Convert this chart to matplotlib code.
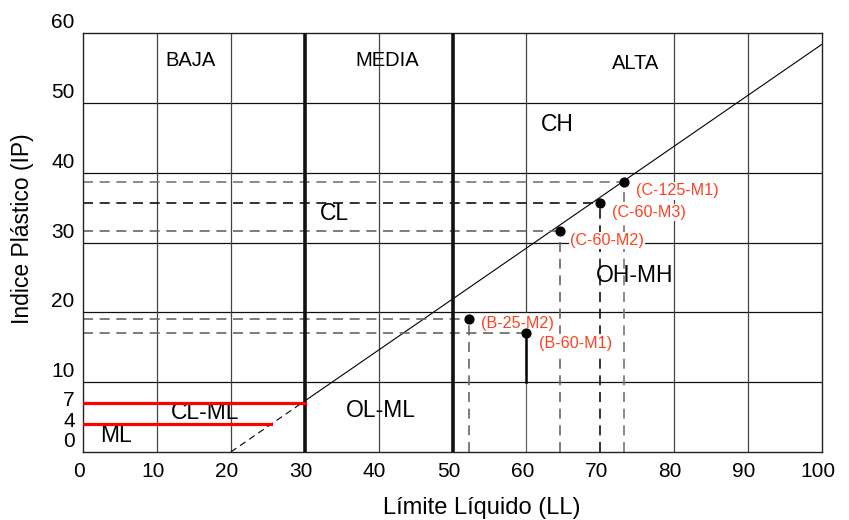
#Carta de plasticidad (LL vs IP)

import matplotlib
matplotlib.use("Agg")
import matplotlib.pyplot as plt
import matplotlib.transforms as mtransforms

plt.rcParams['font.family'] = ['Liberation Sans', 'DejaVu Sans']

# ejes
x_ticks = [0, 10, 20, 30, 40, 50, 60, 70, 80, 90, 100]
y_ticks = [0, 4, 7, 10, 20, 30, 40, 50, 60]
y_tick_shift = [9, 3, 3, 9, 9, 9, 9, 9, 9]  # px hacia arriba

# linea A
a_line_x = [20, 30, 100]
a_line_y = [0, 7.3, 58.4]

# muestras
muestras = ["(B-25-M2)", "(B-60-M1)", "(C-60-M2)", "(C-60-M3)", "(C-125-M1)"]
ll = [52.2, 59.9, 64.5, 69.9, 73.2]
ip = [19.0, 17.0, 31.7, 35.7, 38.7]
lab_x = [58.8, 66.7, 70.9, 76.6, 80.4]
lab_y = [18.4, 15.6, 30.3, 34.3, 37.4]
dash_col = ["#666666", "#666666", "#666666", "#111111", "#777777"]

# zonas
zonas = ["BAJA", "MEDIA", "ALTA"]
zonas_x = [14.6, 41.2, 74.7]
zonas_y = [56, 56, 55.7]
suelos = ["CH", "CL", "OH-MH", "CL-ML", "ML", "OL-ML"]
suelos_x = [64.2, 34.0, 74.7, 16.5, 4.5, 40.3]
suelos_y = [46.9, 34.1, 25.3, 5.7, 2.3, 5.9]

fig = plt.figure(figsize=(8.49, 5.2), dpi=100)
ax = fig.add_axes([0.0978, 0.1308, 0.8705, 0.8057])
ax.set_xlim(0, 100)
ax.set_ylim(0, 60)

# cuadricula
for yy in [10, 20, 30, 40, 50]:
    ax.plot([0, 100], [yy, yy], color="#111111", lw=0.9, zorder=1)
for xx in [10, 20, 40, 80, 90]:
    ax.plot([xx, xx], [0, 60], color="#444444", lw=0.9, zorder=1)
ax.plot([60, 60], [20, 60], color="#444444", lw=0.9, zorder=1)
ax.plot([60, 60], [0, 10], color="#666666", lw=0.9, zorder=1)
for xx in [30, 50]:
    ax.plot([xx, xx], [0, 60], color="#111111", lw=2.6, zorder=3)

# linea A
ax.plot(a_line_x[:2], a_line_y[:2], color="black", lw=0.8, ls=(0, (6, 4)), zorder=2)
ax.plot(a_line_x[1:], a_line_y[1:], color="black", lw=0.8, zorder=2)

# limites CL-ML
ax.plot([0, 30], [7, 7], color="#ff0000", lw=2.3, zorder=4)
ax.plot([0, 25.5], [4, 4], color="#ff0000", lw=2.3, zorder=4)

# muestras
for i in range(len(ll)):
    ax.plot([0, ll[i]], [ip[i], ip[i]], color=dash_col[i], lw=1.2,
            ls=(0, (6, 4)), zorder=2)
    if i == 1:
        ax.plot([ll[i], ll[i]], [10, ip[i]], color="black", lw=1.8, zorder=2)
    else:
        ax.plot([ll[i], ll[i]], [0, ip[i]], color=dash_col[i], lw=1.2,
                ls=(0, (6, 4)), zorder=2)
    ax.text(lab_x[i], lab_y[i], muestras[i], color="#ff4020", fontsize=11.6,
            ha="center", va="center", zorder=5,
            bbox=dict(boxstyle="square,pad=0.08", fc="white", ec="none"))
ax.scatter(ll, ip, s=40, color="black", zorder=6)

for t, xx, yy in zip(zonas, zonas_x, zonas_y):
    ax.text(xx, yy, t, fontsize=14.5, ha="center", va="center")
for t, xx, yy in zip(suelos, suelos_x, suelos_y):
    ax.text(xx, yy, t, fontsize=16.5, ha="center", va="center")

ax.set_xticks(x_ticks)
ax.set_yticks(y_ticks)
ax.tick_params(length=0, labelsize=15)
ax.tick_params(axis="x", pad=7)
ax.tick_params(axis="y", pad=6)
for lab, dy in zip(ax.get_yticklabels(), y_tick_shift):
    lab.set_transform(lab.get_transform() +
                      mtransforms.ScaledTranslation(0, dy / 72, fig.dpi_scale_trans))
for lab in ax.get_xticklabels():
    lab.set_transform(lab.get_transform() +
                      mtransforms.ScaledTranslation(-3 / 72, 0, fig.dpi_scale_trans))

for s in ax.spines.values():
    s.set_linewidth(1.0)
    s.set_color("#222222")

ax.set_xlabel("Límite Líquido (LL)", fontsize=17, va="center")
ax.set_ylabel("Indice Plástico (IP)", fontsize=16.5, va="center")
ax.xaxis.set_label_coords(0.54, -0.134)
ax.yaxis.set_label_coords(-0.082, 0.532)

fig.savefig("out.png", dpi=100)
